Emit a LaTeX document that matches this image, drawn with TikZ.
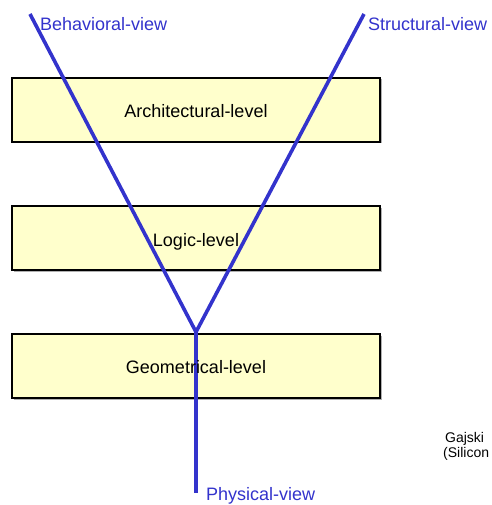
\documentclass[tikz,border=0pt]{standalone}
\usepackage{fontspec}
\setmainfont{Liberation Sans}
\definecolor{viewblue}{HTML}{3333CC}
\definecolor{levelfill}{HTML}{FFFFCC}
\definecolor{shadowgray}{HTML}{B0B0B0}
\tikzset{
  levelbox/.style={draw=black, line width=1.2pt, fill=levelfill, minimum width=368pt,
                   minimum height=64pt, inner sep=0pt, outer sep=0pt},
  boxshadow/.style={fill=shadowgray, minimum width=368pt, minimum height=64pt,
                    inner sep=0pt, outer sep=0pt},
  leveltext/.style={font=\fontsize{18}{22}\selectfont, text=black, inner sep=0pt, anchor=base},
  viewline/.style={draw=viewblue, line width=3.6pt},
  viewlabel/.style={font=\fontsize{18}{22}\selectfont, text=viewblue, inner sep=0pt, anchor=base west},
  notetext/.style={font=\fontsize{14}{16}\selectfont, text=black, inner sep=0pt, anchor=base west}
}
\begin{document}
\begin{tikzpicture}[x=1pt, y=-1pt]
  \useasboundingbox (0,0) rectangle (491,505);
  \clip (0,0) rectangle (491,505);

  % level boxes with a thin drop shadow
  \foreach \cy in {110,238,366} {
    \node[boxshadow] at (197.5,\cy+1.5) {};
  }
  \node[levelbox] (archbox) at (196,110) {};
  \node[levelbox] (logicbox) at (196,238) {};
  \node[levelbox] (geombox) at (196,366) {};

  % the three views meeting in a Y
  \coordinate (behav) at (30,14);
  \coordinate (struct) at (364,14);
  \coordinate (apex) at (196,332);
  \coordinate (phys) at (196,493);
  \draw[viewline, line join=miter] (behav) -- (apex) -- (struct);
  \draw[viewline] (apex) -- (phys);

  % level names on top of the lines
  \node[leveltext] (arch) at ([yshift=-7.5pt]archbox.center) {Architectural-level};
  \node[leveltext] (logic) at ([yshift=-8.5pt]logicbox.center) {Logic-level};
  \node[leveltext] (geom) at ([yshift=-7.5pt]geombox.center) {Geometrical-level};

  % view labels
  \node[viewlabel] (behavlabel) at (40,31) {Behavioral-view};
  \node[viewlabel] (structlabel) at (368,31) {Structural-view};
  \node[viewlabel] (physlabel) at (206,500) {Physical-view};

  % source note
  \node[notetext] (note1) at (445,442) {Gajski};
  \node[notetext] (note2) at (443,457) {(Silicon};
\end{tikzpicture}
\end{document}
